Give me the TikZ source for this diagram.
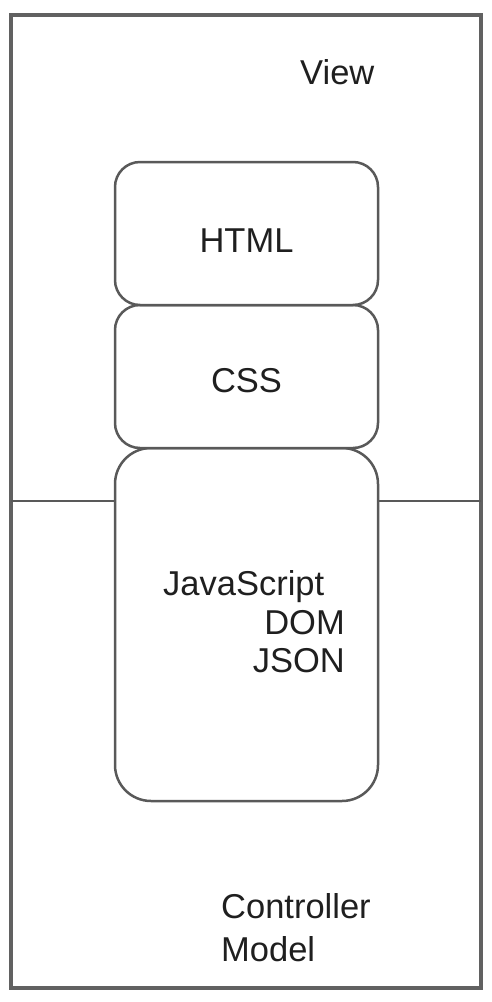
\documentclass[tikz,border=0pt]{standalone}
\usepackage{fontspec}
\setmainfont{Liberation Sans}
\begin{document}
\begin{tikzpicture}[x=1pt,y=-1pt,
  frame/.style={draw=black!62, line width=3.5pt},
  layerbox/.style={draw=black!65, line width=2.5pt, rounded corners=25pt, fill=white},
  label/.style={font=\fontsize{34.5}{38}\selectfont, text=black!88, inner sep=0pt},
  divider/.style={draw=black!65, line width=2.5pt}]
\useasboundingbox (0,0) rectangle (492,1002);
\node[frame, minimum width=470pt, minimum height=973pt, inner sep=0pt] (outer) at (246,501.5) {};
\coordinate (dl) at (11,501);
\coordinate (dr) at (481,501);
\node[layerbox, minimum width=263pt, minimum height=353pt, rounded corners=36pt] (js) at (246.5,624.5) {};
\draw[divider] (dl) -- (dl -| js.west);
\draw[divider] (dr) -- (dr -| js.east);
\node[layerbox, minimum width=263pt, minimum height=143pt] (css) at (246.5,376.5) {};
\node[layerbox, minimum width=263pt, minimum height=143pt] (html) at (246.5,233.5) {};
\node[label, anchor=base] (htmlt) at (246.5,252) {HTML};
\node[label, anchor=base] (csst) at (246.5,392) {CSS};
\node[label, anchor=base west] (view) at (300,84) {View};
\node[label, anchor=base west] (jst) at (163,595) {JavaScript};
\node[label, anchor=base east] (dom) at (345,634) {DOM};
\node[label, anchor=base east] (json) at (345,672) {JSON};
\node[label, anchor=base west] (ctrl) at (221,918) {Controller};
\node[label, anchor=base west] (model) at (221,961) {Model};
\end{tikzpicture}
\end{document}
